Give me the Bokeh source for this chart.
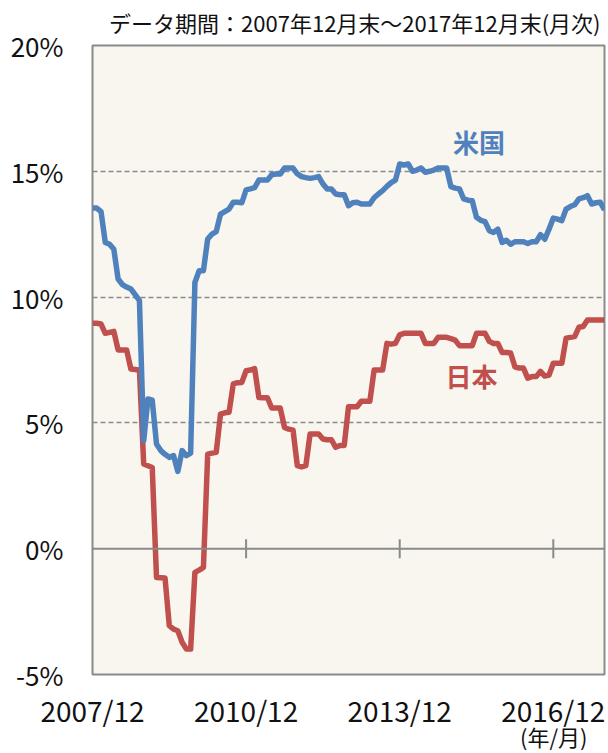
from bokeh.plotting import figure
from bokeh.models import Range1d, FixedTicker, Span, Label, ColumnDataSource, Title
from bokeh.embed import file_html
from bokeh.resources import INLINE

# ---- data (monthly, 2007/12 .. 2017/12) ----
us = [13.54, 13.54, 13.4, 12.17, 12.1, 11.9, 10.72, 10.5, 10.4, 10.32, 10.1, 9.86,
      4.29, 5.95, 5.9, 4.16, 3.9, 3.75, 3.63, 3.70, 3.07, 3.9, 3.7, 3.8,
      10.58, 11.05, 11.05, 12.31, 12.5, 12.6, 13.3, 13.4, 13.5, 13.77, 13.77, 13.75,
      14.26, 14.3, 14.35, 14.65, 14.65, 14.65, 14.86, 14.89, 14.89, 15.13, 15.13, 15.13,
      14.9, 14.79, 14.75, 14.72, 14.75, 14.79, 14.5, 14.3, 14.3, 14.1, 14.07, 14.07,
      13.63, 13.75, 13.77, 13.7, 13.7, 13.7, 13.95, 14.1, 14.23, 14.4, 14.55, 14.65,
      15.29, 15.25, 15.29, 15.0, 15.05, 15.13, 14.96, 15.0, 15.05, 15.13, 15.13, 15.13,
      14.39, 14.33, 14.3, 13.9, 13.85, 13.83, 13.17, 13.05, 13.0, 12.64, 12.57, 12.7,
      12.17, 12.26, 12.1, 12.2, 12.2, 12.2, 12.13, 12.2, 12.2, 12.48, 12.3, 12.7,
      13.14, 13.1, 13.04, 13.5, 13.6, 13.67, 13.9, 13.95, 14.03, 13.7, 13.75, 13.77,
      13.46]
japan = [8.96, 8.96, 8.93, 8.56, 8.6, 8.64, 7.9, 7.9, 7.9, 7.14, 7.12, 7.1,
         3.37, 3.3, 3.23, -1.14, -1.15, -1.16, -3.06, -3.2, -3.26, -3.72, -3.99, -3.99,
         -0.94, -0.85, -0.74, 3.76, 3.8, 3.83, 5.35, 5.4, 5.42, 6.55, 6.6, 6.61,
         7.07, 7.1, 7.16, 6.01, 6.0, 6.0, 5.59, 5.59, 5.59, 4.82, 4.75, 4.71,
         3.3, 3.25, 3.3, 4.56, 4.56, 4.56, 4.36, 4.33, 4.33, 4.03, 4.1, 4.1,
         5.64, 5.64, 5.64, 5.86, 5.86, 5.86, 7.1, 7.1, 7.1, 8.16, 8.13, 8.16,
         8.5, 8.56, 8.56, 8.56, 8.56, 8.56, 8.16, 8.16, 8.16, 8.4, 8.4, 8.4,
         8.35, 8.29, 8.07, 8.07, 8.07, 8.07, 8.56, 8.56, 8.56, 8.24, 8.16, 8.16,
         7.8, 7.8, 7.78, 7.23, 7.18, 7.18, 6.78, 6.84, 6.84, 7.05, 6.86, 6.9,
         7.37, 7.37, 7.37, 8.37, 8.4, 8.43, 8.8, 8.83, 9.09, 9.09, 9.09, 9.09,
         9.09]
months = list(range(len(us)))

x_tick_pos = [0, 36, 72, 108]
x_tick_labels = ["2007/12", "2010/12", "2013/12", "2016/12"]
y_ticks = [-5, 0, 5, 10, 15, 20]
y_tick_labels = ["-5%", "0%", "5%", "10%", "15%", "20%"]
grid_vals = [5, 10, 15]

title_text = "データ期間：2007年12月末～2017年12月末(月次)"
unit_text = "(年/月)"
us_name = "米国"
jp_name = "日本"

BLUE = "#4F81BD"
RED = "#C0504D"
GRAY = "#8A8A8A"
FONT = "Noto Sans CJK JP"

p = figure(width=608, height=753,
           min_border_left=92, min_border_right=4, min_border_top=45, min_border_bottom=79,
           x_range=Range1d(0, 120), y_range=Range1d(-5, 20),
           output_backend="svg", toolbar_location=None)
p.background_fill_color = "#F9F6EF"
p.border_fill_color = "white"
p.outline_line_color = GRAY
p.outline_line_width = 2

# title (top right)
p.title.text = title_text
p.title.align = "right"
p.title.vertical_align = "top"
p.title.offset = 4
p.title.text_font = FONT
p.title.text_font_size = "22px"
p.title.text_font_style = "normal"
p.title.text_color = "#111111"
p.title.standoff = 11

# axes
p.yaxis.ticker = FixedTicker(ticks=y_ticks)
p.yaxis.major_label_overrides = {v: t for v, t in zip(y_ticks, y_tick_labels)}
p.yaxis.axis_line_color = None
p.yaxis.major_tick_line_color = None
p.yaxis.minor_tick_line_color = None
p.yaxis.major_label_standoff = 23
p.yaxis.major_label_text_font = FONT
p.yaxis.major_label_text_font_size = "26px"
p.yaxis.major_label_text_color = "#111111"

p.xaxis.ticker = FixedTicker(ticks=x_tick_pos)
p.xaxis.major_label_overrides = {v: t for v, t in zip(x_tick_pos, x_tick_labels)}
p.xaxis.axis_line_color = None
p.xaxis.major_tick_line_color = None
p.xaxis.minor_tick_line_color = None
p.xaxis.major_label_standoff = 9
p.xaxis.major_label_text_font = FONT
p.xaxis.major_label_text_font_size = "28px"
p.xaxis.major_label_text_color = "#111111"

# unit label below the axis, right aligned
p.add_layout(Title(text=unit_text, align="right", text_font=FONT, text_font_size="22px",
                   text_font_style="normal", text_color="#111111", standoff=-29, offset=17),
             "below")

p.xgrid.grid_line_color = None
p.ygrid.ticker = FixedTicker(ticks=grid_vals)
p.ygrid.grid_line_color = GRAY
p.ygrid.grid_line_dash = "5 3"
p.ygrid.grid_line_width = 1.5

# zero line with crossing tick marks
p.add_layout(Span(location=0, dimension="width", line_color=GRAY, line_width=2))
tick_src = ColumnDataSource(dict(x=x_tick_pos[1:], y0=[-0.38] * 3, y1=[0.38] * 3))
p.segment(x0="x", x1="x", y0="y0", y1="y1", source=tick_src, line_color=GRAY, line_width=2)

# series
p.line(months, japan, line_color=RED, line_width=5.5, line_join="round")
p.line(months, us, line_color=BLUE, line_width=5.5, line_join="round")

# series labels
p.add_layout(Label(x=90.6, y=16.18, text=us_name, text_align="center", text_baseline="middle",
                   text_font=FONT, text_font_size="26px", text_font_style="bold", text_color=BLUE))
p.add_layout(Label(x=88.8, y=6.88, text=jp_name, text_align="center", text_baseline="middle",
                   text_font=FONT, text_font_size="26px", text_font_style="bold", text_color=RED))

open("out.html", "w").write(file_html(p, INLINE))
